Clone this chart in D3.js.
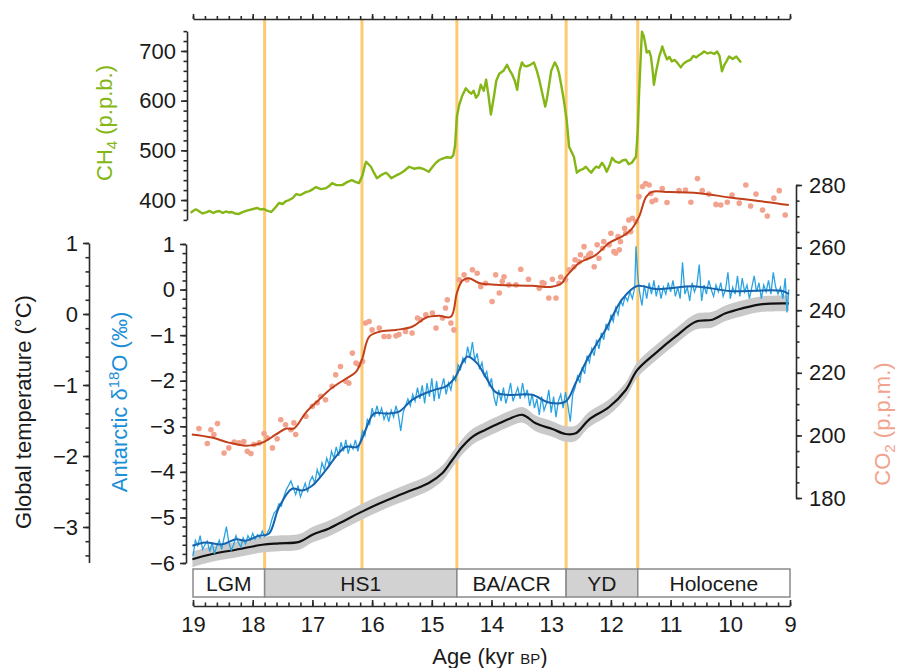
<!DOCTYPE html>
<html>
<head>
<meta charset="utf-8">
<script src="https://cdn.jsdelivr.net/npm/d3@7"></script>
<style>
body { margin: 0; background: #fff; }
text { font-family: "Liberation Sans", Arial, Helvetica, sans-serif; fill: #1a1a1a; }
</style>
</head>
<body>
<script>
// ---- data (age in kyr BP, value) ----
var ch4 = [[19.04,374],[19.0,378],[18.96,381],[18.93,380],[18.88,376],[18.84,373],[18.78,375],[18.72,378],[18.66,374],[18.6,377],[18.56,378],[18.5,374],[18.45,377],[18.4,375],[18.35,376],[18.3,373],[18.23,372],[18.18,375],[18.11,378],[18.05,380],[17.99,382],[17.93,384],[17.87,381],[17.81,382],[17.75,378],[17.69,376],[17.62,385],[17.56,394],[17.5,392],[17.44,398],[17.39,400],[17.33,404],[17.27,412],[17.2,410],[17.11,416],[17.05,418],[16.99,422],[16.94,426],[16.86,422],[16.77,424],[16.72,428],[16.67,434],[16.6,430],[16.5,430],[16.42,436],[16.34,440],[16.27,436],[16.22,434],[16.16,450],[16.12,470],[16.1,477],[16.06,472],[16.02,467],[15.97,455],[15.92,444],[15.85,450],[15.77,455],[15.72,450],[15.68,444],[15.62,448],[15.55,452],[15.47,458],[15.38,467],[15.3,463],[15.21,465],[15.13,462],[15.05,457],[14.98,468],[14.93,475],[14.88,480],[14.83,483],[14.76,486],[14.68,485],[14.64,490],[14.61,510],[14.58,568],[14.54,592],[14.49,610],[14.43,625],[14.38,618],[14.34,614],[14.3,620],[14.26,606],[14.22,612],[14.18,632],[14.13,620],[14.09,642],[14.05,610],[14.01,572],[13.96,608],[13.92,640],[13.87,654],[13.8,660],[13.74,672],[13.7,662],[13.66,654],[13.61,640],[13.57,622],[13.53,660],[13.49,677],[13.45,670],[13.41,669],[13.35,672],[13.29,677],[13.24,660],[13.2,642],[13.15,615],[13.1,588],[13.07,605],[13.04,628],[13.0,660],[12.94,677],[12.9,668],[12.87,656],[12.83,630],[12.79,602],[12.74,560],[12.7,507],[12.66,497],[12.62,487],[12.57,455],[12.52,460],[12.47,462],[12.42,467],[12.37,460],[12.33,455],[12.29,462],[12.25,467],[12.2,465],[12.15,475],[12.11,468],[12.07,457],[12.02,470],[11.98,485],[11.93,478],[11.86,475],[11.8,480],[11.75,481],[11.7,472],[11.65,475],[11.61,482],[11.58,487],[11.55,540],[11.53,608],[11.5,690],[11.48,739],[11.45,730],[11.42,712],[11.4,697],[11.36,700],[11.33,689],[11.3,660],[11.28,632],[11.24,660],[11.19,689],[11.16,700],[11.14,709],[11.1,695],[11.06,683],[11.02,688],[10.98,679],[10.93,682],[10.88,675],[10.83,667],[10.78,675],[10.73,679],[10.67,682],[10.62,690],[10.57,687],[10.52,692],[10.48,695],[10.44,699],[10.38,695],[10.32,697],[10.27,694],[10.22,699],[10.18,690],[10.14,659],[10.1,672],[10.06,680],[10.02,689],[9.96,684],[9.9,689],[9.86,683],[9.82,677]];

var co2Dots = [[18.90,202.2],[18.76,197.4],[18.70,201.8],[18.65,200.3],[18.59,203.8],[18.48,194.4],[18.40,196.0],[18.31,197.9],[18.23,197.6],[18.15,198.0],[18.09,194.9],[18.03,194.2],[17.98,197.1],[17.89,197.6],[17.81,200.6],[17.76,199.2],[17.67,196.0],[17.59,198.9],[17.53,205.0],[17.45,203.4],[17.36,201.8],[17.31,204.0],[17.28,200.3],[17.11,206.1],[17.00,209.3],[16.92,210.4],[16.86,212.5],[16.78,211.4],[16.67,215.7],[16.61,219.4],[16.53,222.0],[16.44,217.3],[16.39,216.7],[16.33,226.3],[16.27,223.1],[16.22,222.6],[16.16,223.6],[16.11,235.9],[16.05,236.4],[16.00,233.7],[15.88,234.3],[15.80,231.6],[15.72,231.6],[15.60,231.8],[15.55,232.2],[15.44,233.2],[15.33,232.7],[15.24,237.5],[15.19,236.9],[15.10,238.5],[14.99,239.1],[14.93,234.3],[14.82,237.5],[14.77,240.7],[14.74,243.3],[14.68,235.9],[14.63,233.7],[14.54,249.7],[14.46,251.3],[14.41,249.7],[14.32,252.9],[14.24,251.8],[14.18,247.6],[14.10,248.6],[13.99,242.8],[13.93,251.3],[13.87,245.5],[13.82,249.2],[13.79,250.7],[13.71,248.1],[13.59,248.1],[13.51,253.1],[13.38,249.9],[13.20,247.0],[13.15,248.8],[13.12,248.6],[13.04,243.9],[12.98,249.9],[12.92,243.9],[12.87,248.6],[12.84,250.6],[12.76,249.7],[12.70,252.9],[12.62,253.9],[12.60,256.1],[12.53,255.5],[12.51,257.7],[12.45,260.3],[12.42,256.6],[12.37,257.7],[12.34,258.2],[12.28,253.9],[12.23,260.9],[12.20,256.6],[12.14,259.8],[12.12,261.9],[12.03,260.9],[12.00,264.6],[11.95,258.7],[11.92,258.2],[11.88,263.5],[11.86,259.3],[11.84,261.9],[11.77,266.2],[11.75,264.6],[11.70,268.8],[11.67,265.1],[11.64,269.4],[11.58,268.3],[11.53,276.3],[11.47,279.5],[11.42,280.5],[11.36,280.0],[11.33,277.3],[11.31,274.7],[11.25,275.2],[11.14,278.9],[11.06,274.4],[10.86,278.2],[10.75,278.4],[10.66,274.5],[10.55,282.1],[10.47,278.2],[10.36,277.1],[10.24,273.8],[10.16,273.6],[10.05,274.5],[9.97,276.8],[9.85,274.2],[9.74,280.0],[9.66,273.3],[9.57,277.1],[9.46,272.0],[9.38,270.1],[9.27,275.8],[9.18,278.2],[9.08,270.4]];

var co2Smooth = [[19.02,200.3],[18.68,199.3],[18.40,197.7],[18.11,196.7],[17.84,197.7],[17.61,200.3],[17.44,202.2],[17.31,202.2],[17.11,207.3],[16.89,211.4],[16.67,215.2],[16.44,218.1],[16.27,220.3],[16.17,224.2],[16.05,231.5],[15.88,233.1],[15.60,233.7],[15.33,234.7],[15.10,237.6],[14.88,238.2],[14.68,237.9],[14.58,245.5],[14.49,249.4],[14.38,250.2],[14.21,248.7],[13.92,248.1],[13.32,247.8],[12.99,247.5],[12.82,248.7],[12.75,250.7],[12.65,252.9],[12.53,255.1],[12.25,257.7],[12.03,261.5],[11.81,263.6],[11.65,266.0],[11.53,269.8],[11.41,276.2],[11.31,277.8],[11.08,277.8],[10.52,277.4],[9.97,275.9],[9.40,274.6],[9.02,273.6]];

var d18Smooth = [[19.01,-5.62],[18.79,-5.55],[18.51,-5.59],[18.28,-5.48],[18.12,-5.51],[17.89,-5.40],[17.73,-5.36],[17.56,-4.78],[17.34,-4.37],[17.17,-4.41],[17.00,-4.30],[16.78,-3.97],[16.61,-3.67],[16.44,-3.45],[16.25,-3.45],[16.11,-3.08],[15.97,-2.72],[15.77,-2.72],[15.55,-2.68],[15.33,-2.42],[15.10,-2.27],[14.93,-2.19],[14.77,-2.13],[14.60,-1.91],[14.49,-1.61],[14.40,-1.47],[14.24,-1.62],[14.10,-1.91],[13.93,-2.25],[13.76,-2.31],[13.32,-2.31],[13.04,-2.48],[12.76,-2.46],[12.59,-2.05],[12.37,-1.47],[12.09,-0.88],[11.81,-0.21],[11.56,0.08],[11.25,0.01],[10.58,0.07],[10.02,-0.03],[9.13,-0.03],[9.02,-0.10]];

var d18Raw = [[19.00,-5.85],[18.96,-5.50],[18.92,-5.62],[18.88,-5.40],[18.84,-5.70],[18.80,-5.60],[18.76,-5.52],[18.72,-5.75],[18.68,-5.55],[18.64,-5.80],[18.60,-5.62],[18.56,-5.50],[18.52,-5.70],[18.48,-5.45],[18.44,-5.20],[18.40,-5.55],[18.36,-5.72],[18.32,-5.60],[18.28,-5.40],[18.24,-5.55],[18.20,-5.65],[18.16,-5.45],[18.12,-5.58],[18.08,-5.40],[18.04,-5.50],[18.00,-5.35],[17.96,-5.48],[17.92,-5.38],[17.88,-5.45],[17.84,-5.30],[17.80,-5.42],[17.76,-5.35],[17.72,-5.25],[17.68,-5.05],[17.64,-4.90],[17.60,-4.85],[17.56,-4.70],[17.52,-4.75],[17.48,-4.55],[17.44,-4.40],[17.40,-4.30],[17.36,-4.20],[17.32,-4.35],[17.28,-4.50],[17.24,-4.30],[17.20,-4.55],[17.16,-4.40],[17.12,-4.25],[17.08,-4.45],[17.04,-4.20],[17.00,-4.10],[16.96,-4.25],[16.92,-3.95],[16.88,-4.10],[16.84,-3.80],[16.80,-3.95],[16.76,-3.70],[16.72,-3.85],[16.68,-3.55],[16.64,-3.70],[16.60,-3.45],[16.56,-3.65],[16.52,-3.35],[16.48,-3.55],[16.44,-3.30],[16.40,-3.60],[16.36,-3.40],[16.32,-3.50],[16.28,-3.30],[16.24,-3.55],[16.20,-3.35],[16.16,-3.10],[16.12,-3.20],[16.08,-2.85],[16.04,-2.95],[16.00,-2.60],[15.96,-2.80],[15.92,-2.55],[15.88,-2.75],[15.84,-2.60],[15.80,-2.85],[15.76,-2.70],[15.72,-2.90],[15.68,-2.65],[15.64,-2.80],[15.60,-2.55],[15.56,-2.75],[15.52,-3.10],[15.48,-2.70],[15.44,-2.55],[15.40,-2.40],[15.36,-2.55],[15.32,-2.30],[15.28,-2.45],[15.24,-2.15],[15.20,-2.40],[15.16,-2.10],[15.12,-2.50],[15.08,-2.05],[15.04,-2.35],[15.00,-1.95],[14.96,-2.45],[14.92,-2.00],[14.88,-2.40],[14.84,-2.15],[14.80,-1.95],[14.76,-2.30],[14.72,-2.05],[14.68,-2.20],[14.64,-1.90],[14.60,-2.00],[14.56,-1.65],[14.52,-1.75],[14.48,-1.50],[14.44,-1.60],[14.40,-1.25],[14.36,-1.50],[14.32,-1.15],[14.28,-1.55],[14.24,-1.40],[14.20,-1.75],[14.16,-1.60],[14.12,-1.90],[14.08,-1.80],[14.04,-2.10],[14.00,-1.95],[13.96,-2.35],[13.92,-2.55],[13.88,-2.20],[13.84,-2.45],[13.80,-2.15],[13.76,-2.50],[13.72,-2.30],[13.68,-2.05],[13.64,-2.45],[13.60,-2.30],[13.56,-2.15],[13.52,-2.40],[13.48,-2.05],[13.44,-2.35],[13.40,-2.20],[13.36,-2.55],[13.32,-2.30],[13.28,-2.60],[13.24,-2.40],[13.20,-2.75],[13.16,-2.35],[13.12,-2.65],[13.08,-2.50],[13.04,-2.20],[13.00,-2.70],[12.96,-2.35],[12.92,-2.80],[12.88,-2.45],[12.84,-2.30],[12.80,-2.60],[12.76,-2.25],[12.72,-2.55],[12.68,-2.90],[12.64,-2.30],[12.60,-2.15],[12.56,-1.90],[12.52,-2.05],[12.48,-1.70],[12.44,-1.85],[12.40,-1.45],[12.36,-1.60],[12.32,-1.30],[12.28,-1.45],[12.24,-1.10],[12.20,-1.30],[12.16,-0.95],[12.12,-1.10],[12.08,-0.75],[12.04,-0.90],[12.00,-0.55],[11.96,-0.70],[11.92,-0.40],[11.88,-0.55],[11.84,-0.25],[11.80,-0.35],[11.76,-0.15],[11.72,-0.25],[11.68,-0.05],[11.64,-0.20],[11.60,0.05],[11.58,0.95],[11.55,0.30],[11.52,-0.05],[11.48,-0.35],[11.44,0.10],[11.40,-0.20],[11.36,0.15],[11.32,-0.10],[11.28,0.20],[11.24,-0.15],[11.20,0.10],[11.16,-0.20],[11.12,0.05],[11.08,-0.10],[11.04,0.15],[11.00,-0.05],[10.96,0.20],[10.92,-0.15],[10.88,0.05],[10.84,-0.20],[10.80,0.60],[10.76,-0.10],[10.72,0.05],[10.68,-0.25],[10.64,0.15],[10.60,-0.05],[10.56,0.10],[10.52,0.55],[10.48,-0.25],[10.44,0.10],[10.40,-0.10],[10.36,0.20],[10.32,0.00],[10.28,-0.15],[10.24,0.10],[10.20,-0.05],[10.16,0.15],[10.12,-0.15],[10.08,0.00],[10.04,0.38],[10.00,-0.20],[9.96,0.05],[9.92,-0.10],[9.88,0.30],[9.84,-0.15],[9.80,0.25],[9.76,-0.05],[9.72,0.10],[9.68,-0.20],[9.64,0.05],[9.60,0.30],[9.56,-0.05],[9.52,0.15],[9.48,-0.20],[9.44,0.10],[9.40,-0.05],[9.36,0.20],[9.32,-0.10],[9.28,0.38],[9.24,0.05],[9.20,-0.10],[9.16,0.05],[9.12,-0.20],[9.08,0.25],[9.05,-0.50],[9.02,0.00]];

var temp = [[19.01,-3.455],[18.68,-3.38],[18.28,-3.32],[17.84,-3.25],[17.56,-3.23],[17.22,-3.21],[17.00,-3.11],[16.72,-3.02],[16.44,-2.90],[16.16,-2.78],[15.88,-2.67],[15.60,-2.57],[15.33,-2.48],[15.05,-2.38],[14.82,-2.24],[14.66,-2.06],[14.49,-1.87],[14.32,-1.73],[14.10,-1.63],[13.87,-1.54],[13.71,-1.48],[13.48,-1.42],[13.26,-1.54],[12.98,-1.62],[12.76,-1.69],[12.59,-1.68],[12.37,-1.49],[12.03,-1.31],[11.75,-1.07],[11.56,-0.79],[11.25,-0.55],[10.92,-0.32],[10.58,-0.11],[10.30,-0.08],[10.08,0.01],[9.80,0.08],[9.46,0.14],[9.02,0.15]];
var tempUnc = 0.11;

var events = [17.8, 16.17, 14.58, 12.75, 11.55];
var periodNames = ["LGM", "HS1", "BA/ACR", "YD", "Holocene"];
var periodFrom = [19, 17.8, 14.58, 12.75, 11.55];
var periodTo = [17.8, 14.58, 12.75, 11.55, 9];
var periodGrey = [false, true, false, true, false];

// ---- svg ----
var svg = d3.select("body").append("svg")
  .attr("width", 897)
  .attr("height", 668);

var x = d3.scaleLinear().domain([19, 9]).range([193, 790]);
var yCH4 = d3.scaleLinear().domain([360, 740]).range([219.9, 31.1]);
var yCO2 = d3.scaleLinear().domain([180, 280]).range([498, 185]);
var yD18 = d3.scaleLinear().domain([-6, 1]).range([563, 244]);
var yT = d3.scaleLinear().domain([-3.5, 1]).range([562.5, 243]);

var fs = 22;
var axisColor = "#2a2a2a";

function drawAxis(g, axis, majors, minors, majSize, minSize, labels) {
  g.append("g").call(axis.tickValues(majors).tickSize(majSize).tickSizeOuter(0)
    .tickFormat(labels ? d3.format("d") : ""));
  var a2 = g.append("g").call(axis.tickValues(minors).tickSize(minSize).tickFormat(""));
  a2.select(".domain").remove();
  g.selectAll("path, line").attr("stroke", axisColor).attr("stroke-width", 1.6);
  g.selectAll("text").attr("font-size", fs).attr("fill", "#1a1a1a")
    .attr("font-family", '"Liberation Sans", Arial, sans-serif');
}

function minorRange(a, b, step) {
  return d3.range(Math.round((b - a) / step) + 1).map(function(i){ return +(a + i*step).toFixed(3); });
}

// event lines
svg.append("g").selectAll("line").data(events).enter().append("line")
  .attr("x1", function(d){ return x(d); })
  .attr("x2", function(d){ return x(d); })
  .attr("y1", 20).attr("y2", 569)
  .attr("stroke", "#fdca72").attr("stroke-width", 3);

// temperature uncertainty band + line
var tArea = d3.area().curve(d3.curveCatmullRom)
  .x(function(d){ return x(d[0]); })
  .y0(function(d){ return yT(d[1] - tempUnc); })
  .y1(function(d){ return yT(d[1] + tempUnc); });
svg.append("path").datum(temp).attr("d", tArea).attr("fill", "#c9c9c9");
svg.append("path").datum(temp)
  .attr("d", d3.line().curve(d3.curveCatmullRom).x(function(d){ return x(d[0]); }).y(function(d){ return yT(d[1]); }))
  .attr("fill", "none").attr("stroke", "#111").attr("stroke-width", 2.2);

// d18O
svg.append("path").datum(d18Raw)
  .attr("d", d3.line().x(function(d){ return x(d[0]); }).y(function(d){ return yD18(d[1]); }))
  .attr("fill", "none").attr("stroke", "#2ba3e2").attr("stroke-width", 1.3);
svg.append("path").datum(d18Smooth)
  .attr("d", d3.line().curve(d3.curveCatmullRom).x(function(d){ return x(d[0]); }).y(function(d){ return yD18(d[1]); }))
  .attr("fill", "none").attr("stroke", "#1664ae").attr("stroke-width", 2);

// CO2
svg.append("g").selectAll("circle").data(co2Dots).enter().append("circle")
  .attr("cx", function(d){ return x(d[0]); })
  .attr("cy", function(d){ return yCO2(d[1]); })
  .attr("r", 2.8).attr("fill", "#f2a38e");
svg.append("path").datum(co2Smooth)
  .attr("d", d3.line().curve(d3.curveCatmullRom).x(function(d){ return x(d[0]); }).y(function(d){ return yCO2(d[1]); }))
  .attr("fill", "none").attr("stroke", "#c1401b").attr("stroke-width", 2);

// CH4
svg.append("path").datum(ch4)
  .attr("d", d3.line().x(function(d){ return x(d[0]); }).y(function(d){ return yCH4(d[1]); }))
  .attr("fill", "none").attr("stroke", "#84b616").attr("stroke-width", 2.4)
  .attr("stroke-linejoin", "round");

// period band
var bandTop = 569, bandBot = 597;
var pg = svg.append("g");
periodNames.forEach(function(name, i) {
  pg.append("rect")
    .attr("x", x(periodFrom[i])).attr("y", bandTop)
    .attr("width", x(periodTo[i]) - x(periodFrom[i])).attr("height", bandBot - bandTop)
    .attr("fill", periodGrey[i] ? "#d2d2d2" : "#fff")
    .attr("stroke", "#8a8a8a").attr("stroke-width", 1.5);
  pg.append("text")
    .attr("x", (x(periodFrom[i]) + x(periodTo[i])) / 2).attr("y", 591)
    .attr("text-anchor", "middle").attr("font-size", 21)
    .text(name);
});

// x axes
var majX = d3.range(9, 20);
var minX = minorRange(9, 19, 0.2);
drawAxis(svg.append("g").attr("transform", "translate(0,606)"),
  d3.axisBottom(x).tickPadding(10), majX, minX, -6, -3.5, true);
drawAxis(svg.append("g").attr("transform", "translate(0,19)"),
  d3.axisTop(x), majX, minX, 5, 3, false);

// CH4 axis
drawAxis(svg.append("g").attr("transform", "translate(187,0)"),
  d3.axisLeft(yCH4).tickPadding(5), [400, 500, 600, 700], minorRange(360, 740, 20), 6, 3.5, true);

// d18O axis
drawAxis(svg.append("g").attr("transform", "translate(186,0)"),
  d3.axisLeft(yD18).tickPadding(5), d3.range(-6, 2), minorRange(-6, 1, 0.2), 6, 3.5, true);

// temperature axis
drawAxis(svg.append("g").attr("transform", "translate(89,0)"),
  d3.axisLeft(yT).tickPadding(5), [-3, -2, -1, 0, 1], minorRange(-3.4, 1, 0.2), 6, 3.5, true);

// CO2 axis
drawAxis(svg.append("g").attr("transform", "translate(796,0)"),
  d3.axisRight(yCO2).tickPadding(7), [180, 200, 220, 240, 260, 280], minorRange(180, 280, 5), 6, 3.5, true);

// axis titles
function vTitle(cx, cy, color) {
  return svg.append("text")
    .attr("transform", "translate(" + cx + "," + cy + ") rotate(-90)")
    .attr("text-anchor", "middle").attr("font-size", fs)
    .style("fill", color);
}
var t1 = vTitle(112, 123, "#84b616");
t1.append("tspan").text("CH");
t1.append("tspan").attr("font-size", 15).attr("dy", 5).text("4");
t1.append("tspan").attr("dy", -5).text(" (p.p.b.)");

var t2 = vTitle(127, 402, "#1e8fd6");
t2.append("tspan").text("Antarctic \u03b4");
t2.append("tspan").attr("font-size", 15).attr("dy", -8).text("18");
t2.append("tspan").attr("dy", 8).text("O (\u2030)");

vTitle(31, 412, "#1a1a1a").text("Global temperature (\u00b0C)");

var t4 = vTitle(890, 424, "#f2a38e");
t4.append("tspan").text("CO");
t4.append("tspan").attr("font-size", 15).attr("dy", 5).text("2");
t4.append("tspan").attr("dy", -5).text(" (p.p.m.)");

var xt = svg.append("text").attr("x", 490).attr("y", 664)
  .attr("text-anchor", "middle").attr("font-size", fs);
xt.append("tspan").text("Age (kyr ");
xt.append("tspan").attr("font-size", 15).text("BP");
xt.append("tspan").text(")");
</script>
</body>
</html>
